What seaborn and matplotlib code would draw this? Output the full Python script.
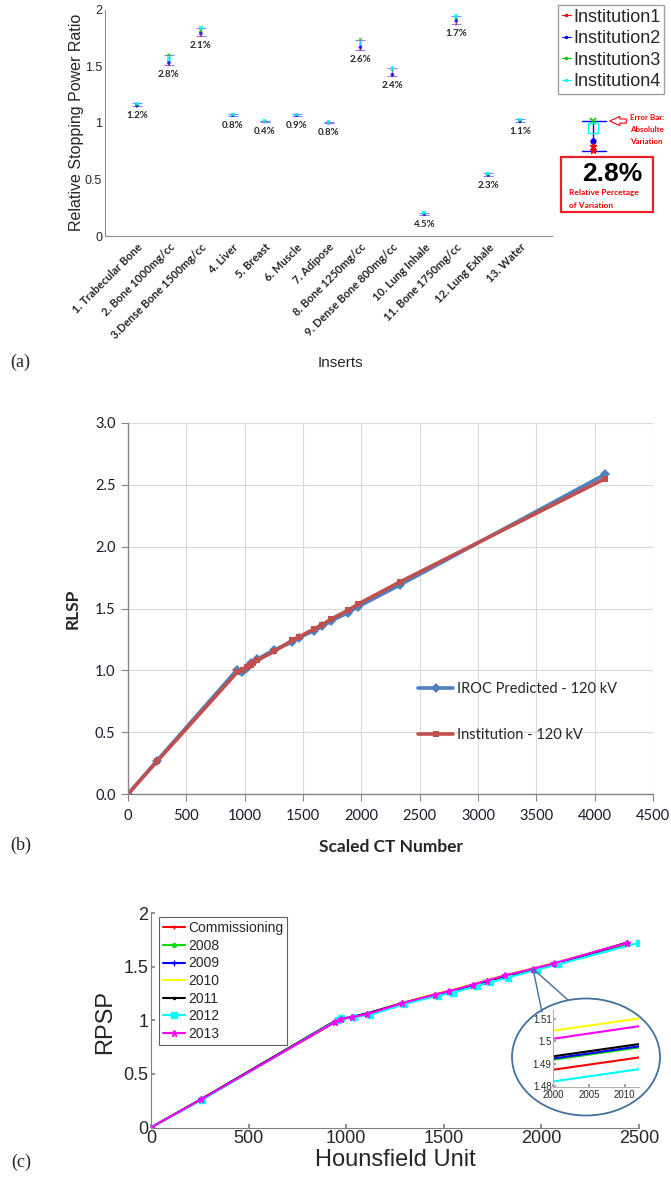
import numpy as np
import pandas as pd
import matplotlib.pyplot as plt
import seaborn as sns
from matplotlib.patches import Ellipse, Rectangle
from matplotlib.lines import Line2D

sns.set_theme(style="white")
plt.rcParams['font.family'] = ['Liberation Sans', 'DejaVu Sans']

W, H = 671, 1177

# ---- (a) relative stopping power ratio of each insert, four institutions
inserts = ['1. Trabecular Bone', '2. Bone 1000mg/cc', '3.Dense Bone 1500mg/cc', '4. Liver',
           '5. Breast', '6. Muscle', '7. Adipose', '8. Bone 1250mg/cc',
           '9. Dense Bone 800mg/cc', '10. Lung Inhale', '11. Bone 1750mg/cc',
           '12. Lung Exhale', '13. Water']
inst1 = [1.145, 1.510, 1.766, 1.062, 1.009, 1.061, 0.996, 1.645, 1.414, 0.187, 1.870, 0.533, 1.007]
inst2 = [1.152, 1.530, 1.790, 1.066, 1.011, 1.066, 1.000, 1.668, 1.425, 0.195, 1.900, 0.540, 1.015]
inst3 = [1.163, 1.598, 1.815, 1.070, 1.013, 1.070, 1.004, 1.735, 1.470, 0.200, 1.925, 0.546, 1.022]
inst4 = [1.170, 1.565, 1.840, 1.074, 1.016, 1.073, 1.007, 1.700, 1.482, 0.207, 1.940, 0.552, 1.030]
variation = ['1.2%', '2.8%', '2.1%', '0.8%', '0.4%', '0.9%', '0.8%', '2.6%', '2.4%',
             '4.5%', '1.7%', '2.3%', '1.1%']
inst_names = ['Institution1', 'Institution2', 'Institution3', 'Institution4']

# ---- (b) RLSP vs scaled CT number
ct_iroc = [0, 249, 935, 975, 1016, 1056, 1108, 1254, 1408, 1467, 1592, 1665, 1742, 1885, 1973, 2329, 4090]
rlsp_iroc = [0.0, 0.27, 1.005, 0.99, 1.02, 1.06, 1.09, 1.165, 1.23, 1.265, 1.32, 1.355, 1.40,
             1.465, 1.515, 1.69, 2.585]
ct_inst = [0, 249, 935, 987, 1016, 1056, 1071, 1108, 1254, 1408, 1467, 1592, 1665, 1742, 1885,
           1973, 2329, 4090]
rlsp_inst = [0.0, 0.264, 0.984, 1.005, 1.03, 1.046, 1.059, 1.08, 1.154, 1.243, 1.27, 1.334,
             1.369, 1.415, 1.485, 1.536, 1.714, 2.55]

# ---- (c) RPSP vs Hounsfield unit, yearly checks
hu = [0, 258, 944, 971, 1030, 1109, 1288, 1453, 1529, 1650, 1720, 1814, 1957, 2066, 2439]
hu_2012 = [0, 262, 958, 975, 1040, 1122, 1298, 1468, 1548, 1668, 1735, 1828, 1975, 2085, 2500]
rpsp_comm = [0, 0.260, 0.982, 1.008, 1.027, 1.057, 1.152, 1.230, 1.260, 1.322, 1.358, 1.405, 1.4675, 1.5175, 1.712]
rpsp_2008 = [0, 0.262, 0.988, 1.012, 1.030, 1.061, 1.157, 1.235, 1.265, 1.327, 1.363, 1.410, 1.472, 1.522, 1.716]
rpsp_2009 = [0, 0.263, 0.990, 1.012, 1.031, 1.062, 1.158, 1.236, 1.266, 1.328, 1.364, 1.411, 1.4725, 1.5225, 1.718]
rpsp_2010 = [0, 0.263, 0.988, 1.018, 1.034, 1.062, 1.165, 1.245, 1.277, 1.338, 1.375, 1.422, 1.485, 1.535, 1.720]
rpsp_2011 = [0, 0.265, 0.995, 1.010, 1.032, 1.065, 1.160, 1.238, 1.268, 1.330, 1.366, 1.412, 1.4735, 1.5235, 1.725]
rpsp_2012 = [0, 0.258, 1.005, 1.020, 1.028, 1.050, 1.150, 1.228, 1.258, 1.318, 1.352, 1.398, 1.4705, 1.521, 1.722]
rpsp_2013 = [0, 0.262, 0.985, 1.015, 1.030, 1.058, 1.160, 1.240, 1.272, 1.333, 1.370, 1.418, 1.481, 1.532, 1.722]


def fx(x):
    return x / W


def fy(y):
    return 1 - y / H


fig = plt.figure(figsize=(6.71, 11.77), dpi=100)

# ================= (a) =================
ax_a = fig.add_axes([fx(105), fy(236), fx(447), 226.5 / H])
pos = np.arange(1, 14)
df_a = pd.DataFrame({
    'pos': np.tile(pos, 4),
    'value': inst1 + inst2 + inst3 + inst4,
    'Institution': np.repeat(inst_names, 13),
})
lo = df_a.groupby('pos')['value'].min().values
hi = df_a.groupby('pos')['value'].max().values
mid = (lo + hi) / 2
ax_a.errorbar(pos, mid, yerr=[mid - lo, hi - mid], fmt='none', ecolor='#8585ff',
              elinewidth=0.8, capsize=3.5, capthick=0.8, zorder=2)
inst_colors = dict(zip(inst_names, ['red', 'blue', '#00cc00', 'cyan']))
inst_markers = dict(zip(inst_names, ['*', 'o', 'X', 's']))
sns.scatterplot(data=df_a, x='pos', y='value', hue='Institution', style='Institution',
                palette=inst_colors, markers=inst_markers, s=7, linewidth=0, alpha=0.8,
                legend=False, ax=ax_a, zorder=3)
for p, l, t in zip(pos, lo, variation):
    ax_a.text(p, l - 0.085, t, ha='center', va='center', fontsize=7, fontweight='bold',
              family='Lato', color='#262626')
ax_a.set_xlim(0, 14)
ax_a.set_ylim(0, 2)
ax_a.set_yticks([0, 0.5, 1, 1.5, 2])
ax_a.set_yticklabels(['0', '0.5', '1', '1.5', '2'], fontsize=9)
ax_a.set_xticks(pos)
ax_a.set_xticklabels(inserts, rotation=45, ha='right', rotation_mode='anchor', fontsize=8,
                     fontweight='bold', family='Lato', color='#262626')
ax_a.tick_params(axis='both', direction='in', length=3, color='#909090', pad=2)
ax_a.tick_params(axis='x', pad=4)
for s in ['top', 'right']:
    ax_a.spines[s].set_visible(False)
for s in ['left', 'bottom']:
    ax_a.spines[s].set_color('#909090')
    ax_a.spines[s].set_linewidth(0.8)
ax_a.set_xlabel('Inserts', fontsize=11)
ax_a.xaxis.set_label_coords((340 - 105) / 447, (236 - 363) / 226.5)
ax_a.xaxis.label.set_va('center')
ax_a.set_ylabel('Relative Stopping Power Ratio', fontsize=11.5)
ax_a.yaxis.set_label_coords((77 - 105) / 447, 0.5)
ax_a.yaxis.label.set_va('center')

leg_a = [Line2D([0], [0], color=inst_colors[n], marker='.', ms=3, lw=0.8) for n in inst_names]
fig.legend(leg_a, inst_names, loc='upper left', bbox_to_anchor=(fx(558), fy(5)), fontsize=13,
           frameon=True, fancybox=False, edgecolor='#a0a0a0', framealpha=1, handlelength=0.5,
           handletextpad=0.15, labelspacing=0.25, borderpad=0.2, borderaxespad=0)

# ================= (b) =================
ax_b = fig.add_axes([fx(128), fy(794), fx(525), 371 / H])
lab_iroc, lab_inst = 'IROC Predicted - 120 kV', 'Institution - 120 kV'
df_b = pd.DataFrame({
    'ct': ct_iroc + ct_inst,
    'rlsp': rlsp_iroc + rlsp_inst,
    'series': [lab_iroc] * len(ct_iroc) + [lab_inst] * len(ct_inst),
})
sns.lineplot(data=df_b, x='ct', y='rlsp', hue='series', style='series',
             palette={lab_iroc: '#4F81BD', lab_inst: '#C0504D'},
             markers={lab_iroc: 'D', lab_inst: 's'}, dashes=False, sort=False,
             errorbar=None, lw=2.6, markersize=5, markeredgewidth=0, ax=ax_b)
h, l = ax_b.get_legend_handles_labels()
ax_b.legend(h, l, loc='upper left', bbox_to_anchor=((418 - 128) / 525, (794 - 682) / 371),
            frameon=False, prop={'family': 'Lato', 'size': 10.5}, handlelength=2.4,
            handletextpad=0.3, labelspacing=2.2, borderaxespad=0, borderpad=0)
ax_b.set_xlim(0, 4500)
ax_b.set_ylim(0, 3)
ax_b.set_xticks(np.arange(0, 4501, 500))
ax_b.set_yticks(np.arange(0, 3.01, 0.5))
ax_b.set_yticklabels([f'{v:.1f}' for v in np.arange(0, 3.01, 0.5)])
for t in ax_b.get_xticklabels() + ax_b.get_yticklabels():
    t.set_family('Lato')
    t.set_fontsize(10.5)
    t.set_color('#1a1a2a')
ax_b.grid(True, color='#d9d9d9', lw=0.8)
ax_b.tick_params(axis='both', direction='out', length=5, color='#868686', width=0.8,
                 left=True, bottom=True)
ax_b.tick_params(axis='x', pad=6)
ax_b.tick_params(axis='y', pad=4)
for s in ['top', 'right']:
    ax_b.spines[s].set_visible(False)
for s in ['left', 'bottom']:
    ax_b.spines[s].set_color('#868686')
    ax_b.spines[s].set_linewidth(1.0)
ax_b.set_xlabel('Scaled CT Number', family='Lato', fontweight='bold', fontsize=12.5)
ax_b.xaxis.set_label_coords(0.501, (794 - 847) / 371)
ax_b.xaxis.label.set_va('center')
ax_b.set_ylabel('RLSP', family='Lato', fontweight='bold', fontsize=12.5)
ax_b.yaxis.set_label_coords((73 - 128) / 525, 0.5)
ax_b.yaxis.label.set_va('center')

# ================= (c) =================
ax_c = fig.add_axes([fx(151), fy(1127.5), fx(488), 214.5 / H])
series_c = [
    ('Commissioning', hu, rpsp_comm, 'red', '+', 3),
    ('2008', hu, rpsp_2008, '#00dd00', 'h', 3),
    ('2009', hu, rpsp_2009, 'blue', '+', 4),
    ('2010', hu, rpsp_2010, '#ffff00', None, 0),
    ('2011', hu, rpsp_2011, 'black', '.', 3),
    ('2012', hu_2012, rpsp_2012, 'cyan', 's', 4.5),
    ('2013', hu, rpsp_2013, 'magenta', '*', 5),
]
for name, xs, ys, col, mk, ms in series_c:
    sns.lineplot(x=xs, y=ys, color=col, marker=mk, markersize=ms, markeredgewidth=1,
                 markeredgecolor=col, lw=1.5, sort=False, errorbar=None, label=name, ax=ax_c)
h, l = ax_c.get_legend_handles_labels()
ax_c.legend(h, l, loc='upper left', bbox_to_anchor=(fx(159), fy(917)),
            bbox_transform=fig.transFigure, fontsize=10, frameon=True, fancybox=False,
            edgecolor='#606060', framealpha=1, handlelength=1.6, handletextpad=0.2,
            labelspacing=0.26, borderpad=0.3, borderaxespad=0)
ax_c.get_legend().get_frame().set_linewidth(0.8)
ax_c.set_xlim(0, 2500)
ax_c.set_ylim(0, 2)
ax_c.set_xticks(np.arange(0, 2501, 500))
ax_c.set_yticks([0, 0.5, 1, 1.5, 2])
ax_c.set_yticklabels(['0', '0.5', '1', '1.5', '2'])
ax_c.tick_params(axis='both', direction='in', length=3, color='#808080', labelsize=13,
                 pad=2, left=True, bottom=True)
for s in ['top', 'right']:
    ax_c.spines[s].set_visible(False)
for s in ['left', 'bottom']:
    ax_c.spines[s].set_color('#808080')
    ax_c.spines[s].set_linewidth(0.8)
ax_c.set_xlabel('Hounsfield Unit', fontsize=17)
ax_c.xaxis.set_label_coords(0.5, (1127.5 - 1160) / 214.5)
ax_c.xaxis.label.set_va('center')
ax_c.set_ylabel('RPSP', fontsize=17)
ax_c.yaxis.set_label_coords((105 - 151) / 488, 0.49)
ax_c.yaxis.label.set_va('center')

# ---- overlay in pixel coordinates for keys, callout and panel letters
ov = fig.add_axes([0, 0, 1, 1], zorder=5)
ov.set_xlim(0, W)
ov.set_ylim(H, 0)
ov.axis('off')
ov.patch.set_alpha(0)

# key to the error bars of (a)
ov.plot([593, 593], [121, 151], color='blue', lw=1)
ov.plot([582, 606], [121, 121], color='blue', lw=1)
ov.plot([582, 606], [151, 151], color='blue', lw=1)
ov.plot(593, 121, marker='x', color='#00cc00', ms=4.5, mew=1.2)
ov.plot(593, 128, marker='s', mfc='none', mec='cyan', ms=7, mew=1)
ov.plot(593, 141, marker='o', color='blue', ms=3.5)
ov.plot([593, 593], [146, 149.5], marker='*', color='red', ms=5, lw=0)
ov.annotate('', xy=(607, 121), xytext=(629, 121),
            arrowprops=dict(arrowstyle='simple,head_width=0.55,head_length=0.6,tail_width=0.25',
                            fc='white', ec='red', lw=0.8))
for ty, tt in [(117, 'Error Bar:'), (129, 'Absolulte'), (141, 'Variation')]:
    ov.text(630, ty, tt, color='red', fontsize=5.8, fontweight='bold', family='Lato',
            va='center', ha='left')
ov.add_patch(Rectangle((561, 157), 92, 55, fill=False, ec='#e8202a', lw=1.6))
ov.text(612, 174, '2.8%', fontsize=19, fontweight='bold', ha='center', va='center',
        color='black')
ov.text(569, 193, 'Relative Percetage', fontsize=6, fontweight='bold', family='Lato',
        color='red', va='center')
ov.text(569, 205, 'of Variation', fontsize=6, fontweight='bold', family='Lato',
        color='red', va='center')

# callout to the zoomed inset of (c)
fig.canvas.draw()
ax_disp = ax_c.transData.transform((1957, 1.48))
apx, apy = ax_disp[0], H - ax_disp[1]
ov.plot([apx, 542], [apy, 1012], color='#41719C', lw=1)
ov.plot([apx, 568], [apy, 1000], color='#41719C', lw=1)
ov.add_patch(Ellipse((586, 1057), 148, 117, fc='white', ec='#41719C', lw=1.3))

for lx, ly, lt in [(20, 362, '(a)'), (21, 845, '(b)'), (21, 1162, '(c)')]:
    ov.text(lx, ly, lt, family='Liberation Serif', fontsize=13, ha='center', va='center')

# zoomed inset
ax_in = fig.add_axes([fx(553), fy(1087), fx(86), 77 / H], zorder=6)
for name, xs, ys, col, mk, ms in series_c:
    sns.lineplot(x=xs, y=ys, color=col, lw=1.5, sort=False, errorbar=None, ax=ax_in)
ax_in.set_xlim(2000, 2012)
ax_in.set_ylim(1.4795, 1.514)
ax_in.set_xticks([2000, 2005, 2010])
ax_in.set_yticks([1.48, 1.49, 1.5, 1.51])
ax_in.set_yticklabels(['1.48', '1.49', '1.5', '1.51'])
ax_in.tick_params(axis='both', direction='in', length=2, labelsize=7, pad=1,
                  color='#909090', left=True, bottom=True)
ax_in.tick_params(axis='x', pad=2)
ax_in.patch.set_alpha(0)
for s in ['top', 'right']:
    ax_in.spines[s].set_visible(False)
for s in ['left', 'bottom']:
    ax_in.spines[s].set_color('#b0b0b0')
    ax_in.spines[s].set_linewidth(0.8)
ax_in.set_xlabel('')
ax_in.set_ylabel('')

fig.savefig('out.png', dpi=100)
